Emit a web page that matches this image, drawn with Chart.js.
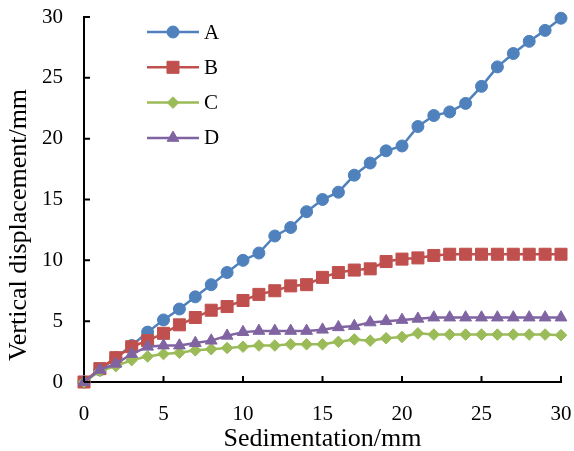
<!DOCTYPE html>
<html>
<head>
<meta charset="utf-8">
<script src="https://cdn.jsdelivr.net/npm/chart.js@4/dist/chart.umd.min.js"></script>
<style>
  html, body { margin: 0; padding: 0; background: #fff; }
  #wrap { width: 574px; height: 451px; position: relative; }
</style>
</head>
<body>
<div id="wrap"><canvas id="c" width="574" height="451"></canvas></div>
<script>
const sedimentation = [0,1,2,3,4,5,6,7,8,9,10,11,12,13,14,15,16,17,18,19,20,21,22,23,24,25,26,27,28,29,30];
const seriesA = [0,1,2,3,4.1,5.1,6,7,8,9,10,10.6,12,12.7,14,15,15.6,17,18,19,19.4,21,21.9,22.2,22.9,24.3,25.9,27,28,28.9,29.9];
const seriesB = [0,1.1,2,2.9,3.4,4,4.7,5.3,5.9,6.2,6.7,7.2,7.5,7.9,8,8.6,9,9.2,9.3,9.9,10.1,10.2,10.4,10.5,10.5,10.5,10.5,10.5,10.5,10.5,10.5];
const seriesC = [0,0.9,1.3,1.8,2.1,2.3,2.4,2.6,2.7,2.8,2.9,3.0,3.0,3.1,3.1,3.1,3.3,3.5,3.4,3.6,3.7,4.0,3.9,3.9,3.9,3.9,3.9,3.9,3.9,3.9,3.85];
const seriesD = [0,1.0,1.5,2.3,2.9,3.0,3.0,3.2,3.4,3.8,4.1,4.2,4.2,4.2,4.2,4.3,4.5,4.6,4.9,5.0,5.1,5.2,5.3,5.3,5.3,5.3,5.3,5.3,5.3,5.3,5.3];
const seriesNames = ['A','B','C','D'];
const xTitle = 'Sedimentation/mm';
const yTitle = 'Vertical displacement/mm';

const FONT = "'Liberation Serif','Times New Roman',serif";
const pts = vals => sedimentation.map((x, i) => ({x: x, y: vals[i]}));

const styles = [
  {color:'#4F81BD', style:'circle', radius:6},
  {color:'#C0504D', style:'rect', radius:8.5},
  {color:'#9BBB59', style:'rectRot', radius:5.8},
  {color:'#8064A2', style:'triangle', radius:6.8}
];
const allSeries = [seriesA, seriesB, seriesC, seriesD];

const datasets = allSeries.map((vals, i) => ({
  label: seriesNames[i],
  data: pts(vals),
  borderColor: styles[i].color,
  backgroundColor: styles[i].color,
  pointBackgroundColor: styles[i].color,
  pointBorderColor: styles[i].color,
  pointBorderWidth: 1,
  pointStyle: styles[i].style,
  pointRadius: styles[i].radius,
  borderWidth: 2.5,
  tension: 0,
  clip: false,
  order: 3 - i
}));

const decorPlugin = {
  id: 'decor',
  afterDraw(chart) {
    const ctx = chart.ctx;
    const xs = chart.scales.x, ys = chart.scales.y;
    const area = chart.chartArea;
    ctx.save();
    ctx.strokeStyle = '#000';
    ctx.lineWidth = 2;
    ctx.beginPath();
    xs.ticks.forEach(t => {
      const px = xs.getPixelForValue(t.value);
      ctx.moveTo(px, area.bottom);
      ctx.lineTo(px, area.bottom - 6);
    });
    ys.ticks.forEach(t => {
      const py = ys.getPixelForValue(t.value);
      ctx.moveTo(area.left, py);
      ctx.lineTo(area.left + 6, py);
    });
    ctx.stroke();
    ctx.fillStyle = '#000';
    ctx.font = "26px " + FONT;
    ctx.textAlign = 'center';
    ctx.textBaseline = 'middle';
    ctx.translate(19, 225);
    ctx.rotate(-Math.PI / 2);
    ctx.fillText(yTitle, 0, 0);
    ctx.restore();
    ctx.save();
    const y0 = 32, dy = 35.3;
    chart.data.datasets.forEach((ds, i) => {
      const y = y0 + dy * i;
      ctx.strokeStyle = ds.borderColor;
      ctx.lineWidth = 2.5;
      ctx.beginPath();
      ctx.moveTo(147, y);
      ctx.lineTo(199, y);
      ctx.stroke();
      ctx.fillStyle = ds.pointBackgroundColor;
      ctx.strokeStyle = ds.pointBorderColor;
      ctx.lineWidth = 1;
      Chart.helpers.drawPoint(ctx, {pointStyle: ds.pointStyle, radius: ds.pointRadius, borderWidth: 1, rotation: 0}, 173, y);
      ctx.fillStyle = '#000';
      ctx.font = "21px " + FONT;
      ctx.textAlign = 'left';
      ctx.textBaseline = 'middle';
      ctx.fillText(ds.label, 204, y + 1);
    });
    ctx.restore();
  }
};

function zeroPad(s) { s.paddingLeft = 0; s.paddingRight = 0; s.paddingTop = 0; s.paddingBottom = 0; }

new Chart(document.getElementById('c'), {
  type: 'line',
  data: { datasets: datasets },
  options: {
    responsive: false,
    animation: false,
    devicePixelRatio: 1,
    layout: { padding: { left: 0, right: 13, top: 17, bottom: 0 } },
    plugins: { legend: { display: false }, tooltip: { enabled: false } },
    scales: {
      x: {
        type: 'linear', min: 0, max: 30,
        ticks: { stepSize: 5, color: '#000', font: { family: FONT, size: 21 }, padding: 20, maxRotation: 0 },
        grid: { display: false, drawTicks: false },
        border: { display: true, color: '#000', width: 2 },
        title: { display: true, text: xTitle, color: '#000', font: { family: FONT, size: 26 }, padding: { top: 0, bottom: -4 } },
        afterFit(s) { s.height = 69; zeroPad(s); }
      },
      y: {
        type: 'linear', min: 0, max: 30,
        ticks: { stepSize: 5, color: '#000', font: { family: FONT, size: 21 }, padding: 21 },
        grid: { display: false, drawTicks: false },
        border: { display: true, color: '#000', width: 2 },
        afterFit(s) { s.width = 84; zeroPad(s); }
      }
    }
  },
  plugins: [decorPlugin]
});
</script>
</body>
</html>
